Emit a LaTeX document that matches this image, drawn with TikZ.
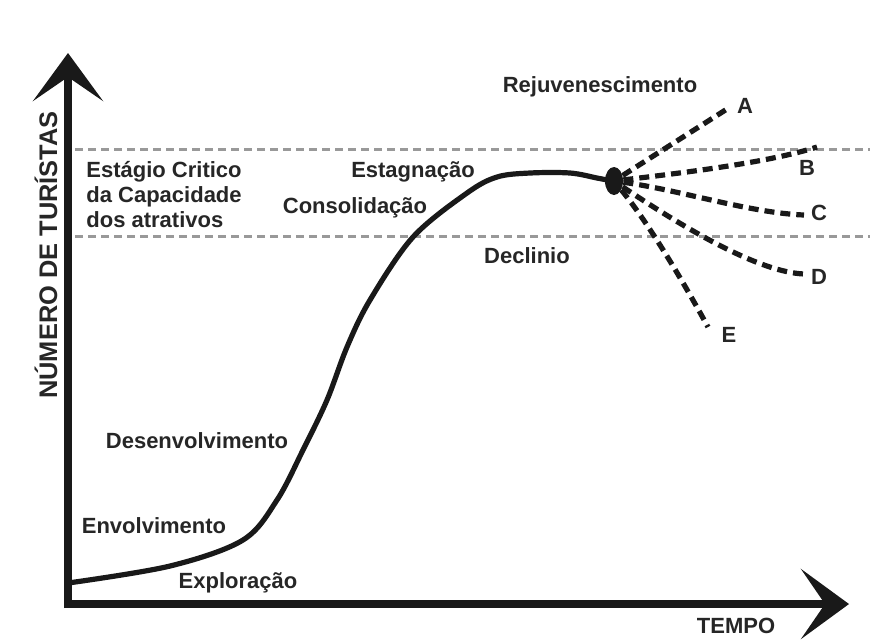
\documentclass[tikz,border=0pt]{standalone}
\usepackage{fontspec}
\setmainfont{Liberation Sans}
\usetikzlibrary{arrows.meta,shapes.geometric}
\tikzset{
  >={Stealth[length=24pt,width=35pt,inset=12pt]},
  axis/.style={draw=black!90, line width=4pt, ->},
  limit/.style={draw=black!40, line width=1.5pt, dash pattern=on 4pt off 2.5pt},
  curve/.style={draw=black!90, line width=2.6pt, line cap=round, line join=round},
  branch/.style={draw=black!90, line width=2.6pt, dash pattern=on 5pt off 3pt},
  phase/.style={font=\bfseries\fontsize{11}{12.5}\selectfont, text=black!85, inner sep=0pt},
  letter/.style={phase, anchor=center}
}

\begin{document}
\begin{tikzpicture}[x=0.5pt,y=-0.5pt]
  \useasboundingbox (0,0) rectangle (870,639);

  % Draw limits of the critical capacity band.
  \draw[limit] (75,149) -- (870,149);
  \draw[limit] (75,236) -- (870,236);

  % Draw axes.
  \coordinate (ybase) at (68,608);
  \coordinate (ytip) at (68,53);
  \coordinate (xbase) at (64,604);
  \coordinate (xtip) at (849,604);
  \draw[axis] (ybase) -- (ytip);
  \draw[axis] (xbase) -- (xtip);
  \node[phase, font=\bfseries\fontsize{12.7}{14}\selectfont, rotate=90] (ylabel) at (46,255) {NÚMERO DE TURÍSTAS};
  \node[phase] (xlabel) at (736,626) {TEMPO};

  % Draw life cycle curve.
  \draw[curve] plot[smooth, tension=0.55] coordinates {
    (68,583) (170,566) (243,540) (277,500) (303,450) (327,400) (347,347)
    (370,300) (413,237) (467,193) (497,177) (530,173) (570,173) (597,178) (612,181)};
  \node[ellipse, fill=black!90, minimum width=9pt, minimum height=14pt, inner sep=0pt] (spot) at (614,181) {};

  % Draw the five possible futures.
  \coordinate (endA) at (727,109);
  \coordinate (endB) at (817,147);
  \coordinate (endC) at (804,215);
  \coordinate (endD) at (804,274);
  \coordinate (endE) at (708,327);
  \draw[branch] (spot) -- (endA);
  \draw[branch] (spot) .. controls (690,172) and (770,162) .. (endB);
  \draw[branch] (spot) .. controls (680,190) and (750,213) .. (endC);
  \draw[branch] (spot) .. controls (690,232) and (760,272) .. (endD);
  \draw[branch] (spot) .. controls (650,225) and (685,285) .. (endE);
  \node[letter] (labA) at (745,106) {A};
  \node[letter] (labB) at (807,168) {B};
  \node[letter] (labC) at (819,213) {C};
  \node[letter] (labD) at (819,277) {D};
  \node[letter] (labE) at (729,335) {E};

  % Label the phases.
  \node[phase, align=left, anchor=west] (critico) at (86,195) {Estágio Critico\\da Capacidade\\dos atrativos};
  \node[phase] (rejuv) at (600,87) {Rejuvenescimento};
  \node[phase] (estag) at (413,172) {Estagnação};
  \node[phase] (consol) at (355,208) {Consolidação};
  \node[phase] (declin) at (527,256) {Declinio};
  \node[phase] (desenv) at (197,441) {Desenvolvimento};
  \node[phase] (envolv) at (154,526) {Envolvimento};
  \node[phase] (explor) at (238,583) {Exploração};
\end{tikzpicture}
\end{document}
